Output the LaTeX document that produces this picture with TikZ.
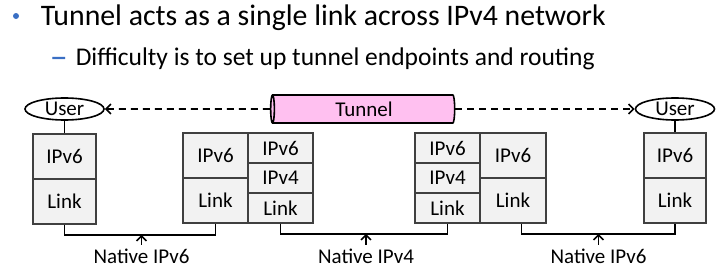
\documentclass[tikz,border=0pt]{standalone}
\usepackage{fontspec}
\setmainfont{Carlito}
\usepackage{xcolor}
\usetikzlibrary{arrows.meta,positioning,shapes.geometric}
\definecolor{accent}{HTML}{3A6FC4}
\definecolor{tunnelpink}{HTML}{FFC0F0}
\definecolor{cellgray}{HTML}{F2F2F2}
\definecolor{edge}{HTML}{404040}
\begin{document}
\begin{tikzpicture}[
  x=1pt, y=-1pt,
  >={Straight Barb[length=5pt,width=10pt]},
  every path/.style={line width=1.6pt},
  cell/.style={draw=edge, fill=cellgray, minimum width=64pt, minimum height=45pt, inner sep=0pt, font=\fontsize{21}{21}\selectfont},
  cellthin/.style={cell, minimum height=30pt},
  usr/.style={ellipse, draw=black, fill=white, minimum width=79pt, minimum height=22pt, inner sep=0pt, font=\fontsize{21}{21}\selectfont},
  lbl/.style={font=\fontsize{21}{21}\selectfont, inner sep=0pt, anchor=base}]
  \useasboundingbox (0,0) rectangle (724,273);
  % bullet text
  \node[circle, fill=accent, minimum size=6pt, inner sep=0pt] (bul) at (16,16) {};
  \node[font=\fontsize{29.8}{29.8}\selectfont, inner sep=0pt, anchor=base west] (t1) at (40,25) {Tunnel acts as a single link across IPv4 network};
  \node[font=\fontsize{36}{36}\selectfont, text=accent, inner sep=0pt, anchor=base west] (dsh) at (49,68) {–};
  \node[font=\fontsize{25.5}{25.5}\selectfont, inner sep=0pt, anchor=base west] (t2) at (75,65) {Difficulty is to set up tunnel endpoints and routing};
  % hosts
  \node[cell, minimum width=63pt] (h1a) at (64.5,156.5) {IPv6};
  \node[cell, minimum width=63pt] (h1b) at (64.5,201.5) {Link};
  \node[cell, minimum width=62pt] (h2a) at (675,155.5) {IPv6};
  \node[cell, minimum width=62pt] (h2b) at (675,200.5) {Link};
  % router 1
  \node[cell, minimum width=65pt] (r1a) at (215.5,155.5) {IPv6};
  \node[cell, minimum width=65pt] (r1b) at (215.5,200.5) {Link};
  \node[cellthin, minimum width=65pt] (r1c) at (280.5,148) {IPv6};
  \node[cellthin, minimum width=65pt] (r1d) at (280.5,178) {IPv4};
  \node[cellthin, minimum width=65pt] (r1e) at (280.5,208) {Link};
  % router 2
  \node[cellthin, minimum width=65pt] (r2a) at (447.5,148) {IPv6};
  \node[cellthin, minimum width=65pt] (r2b) at (447.5,178) {IPv4};
  \node[cellthin, minimum width=65pt] (r2c) at (447.5,208) {Link};
  \node[cell, minimum width=66pt] (r2d) at (513,155.5) {IPv6};
  \node[cell, minimum width=66pt] (r2e) at (513,200.5) {Link};
  % users and tunnel
  \node[usr] (u1) at (64.5,109) {User};
  \node[usr] (u2) at (675,109) {User};
  \node[cylinder, shape border rotate=180, draw=black, fill=tunnelpink, aspect=0.25,
        minimum width=28pt, minimum height=184pt, inner sep=0pt,
        font=\fontsize{21}{21}\selectfont] (tun) at (364,109) {Tunnel};
  \draw (u1) -- (h1a);
  \draw (u2) -- (h2a);
  \draw[->, dash pattern=on 7pt off 5pt] (tun) -- (u1);
  \draw[->, dash pattern=on 7pt off 5pt] (tun) -- (u2);
  % native links
  \draw (h1b.south) -- ++(0,10) coordinate (n1) -| (r1b.south);
  \draw (r1e.south) -- ++(0,10) coordinate (n2) -| (r2c.south);
  \draw ([xshift=8.5pt]r2e.south) -- ++(0,10) coordinate (n3) -| (h2b.south);
  \node[lbl] (nat1) at (141.5,263) {Native IPv6};
  \node[lbl] (nat2) at (366,263) {Native IPv4};
  \node[lbl] (nat3) at (598.5,263) {Native IPv6};
  \draw[->] ([yshift=3pt]nat1.north) -- (nat1.north |- n1);
  \draw[->] ([yshift=3pt]nat2.north) -- (nat2.north |- n2);
  \draw[->] ([yshift=3pt]nat3.north) -- (nat3.north |- n3);
\end{tikzpicture}
\end{document}
